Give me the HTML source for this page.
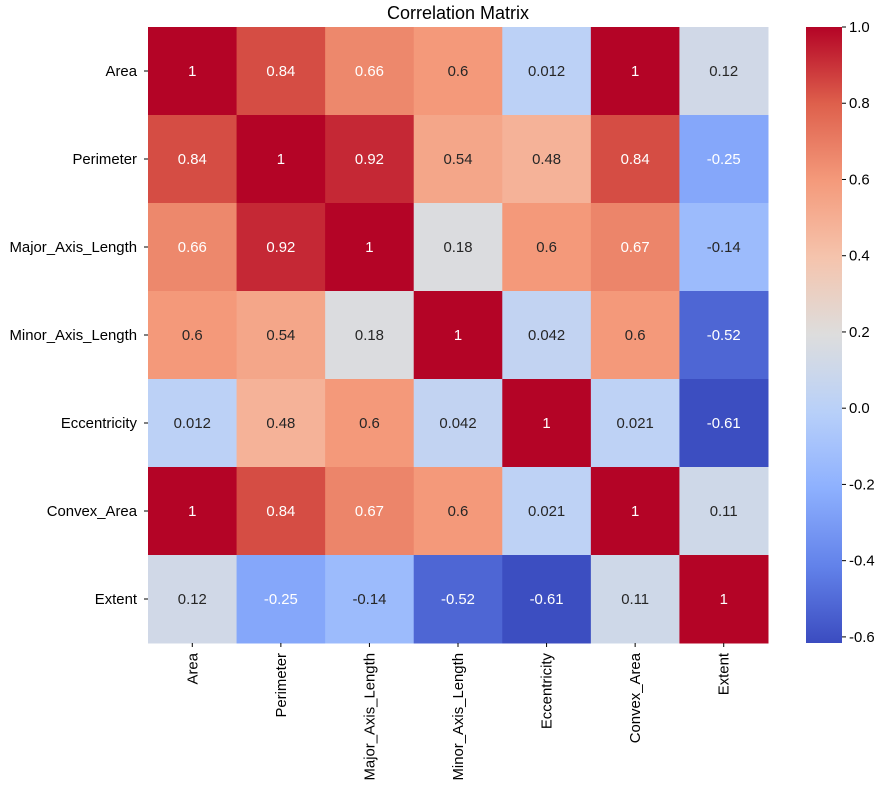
<!DOCTYPE html>
<html><head><meta charset="utf-8"><style>
body{margin:0;background:#fff;font-family:"Liberation Sans","DejaVu Sans",sans-serif;}
svg text{font-family:"Liberation Sans","DejaVu Sans",sans-serif;}
</style></head><body>
<svg id="chart" width="895" height="796">
<text x="458" y="19" text-anchor="middle" font-size="18" fill="#000">Correlation Matrix</text>
<g id="cells"></g>
<g id="ylabels"></g>
<g id="xlabels"></g>
<g id="cbar"></g>
</svg>
<script>
const labels = ["Area","Perimeter","Major_Axis_Length","Minor_Axis_Length","Eccentricity","Convex_Area","Extent"];
const row0 = [1,0.84,0.66,0.6,0.012,1,0.12];
const row1 = [0.84,1,0.92,0.54,0.48,0.84,-0.25];
const row2 = [0.66,0.92,1,0.18,0.6,0.67,-0.14];
const row3 = [0.6,0.54,0.18,1,0.042,0.6,-0.52];
const row4 = [0.012,0.48,0.6,0.042,1,0.021,-0.61];
const row5 = [1,0.84,0.67,0.6,0.021,1,0.11];
const row6 = [0.12,-0.25,-0.14,-0.52,-0.61,0.11,1];
const matrix = [row0,row1,row2,row3,row4,row5,row6];
const cbarTicks = [-0.6,-0.4,-0.2,0.0,0.2,0.4,0.6,0.8,1.0];
const vmin = -0.616, vmax = 1.0;

const NS="http://www.w3.org/2000/svg";
const X0=148,X1=768,Y0=27,Y1=643;
const n=labels.length, cw=(X1-X0)/n, ch=(Y1-Y0)/n;
const FS=14.9;
const cmap=[[59,76,192],[98,130,234],[141,176,254],[184,208,249],[221,221,221],[245,196,173],[244,154,123],[222,96,76],[180,4,38]];
function color(v){
  let t=(v-vmin)/(vmax-vmin); t=Math.max(0,Math.min(1,t));
  const p=t*8, i=Math.min(7,Math.floor(p)), f=p-i;
  return cmap[i].map((c,k)=>Math.round(c+(cmap[i+1][k]-c)*f));
}
function lum(c){const l=c.map(x=>{x/=255;return x<=0.03928?x/12.92:Math.pow((x+0.055)/1.055,2.4)});return 0.2126*l[0]+0.7152*l[1]+0.0722*l[2];}
function el(tag,attrs,parent){const e=document.createElementNS(NS,tag);for(const k in attrs)e.setAttribute(k,attrs[k]);parent.appendChild(e);return e;}
const cells=document.getElementById('cells');
matrix.forEach((row,r)=>row.forEach((v,c)=>{
  const col=color(v);
  const rect=el('rect',{x:X0+c*cw,y:Y0+r*ch,width:cw+0.5,height:ch+0.5,fill:`rgb(${col})`},cells);
  
  
  const t=el('text',{x:X0+(c+0.5)*cw,y:Y0+(r+0.5)*ch+5,'text-anchor':'middle','font-size':FS,fill:lum(col)>0.408?'#262626':'#fff'},cells);
  t.textContent=String(v);
  
  
}));
const yl=document.getElementById('ylabels'), xl=document.getElementById('xlabels');
labels.forEach((lab,i)=>{
  const y=Y0+(i+0.5)*ch;
  el('line',{x1:X0-4,x2:X0,y1:y,y2:y,stroke:'#000'},yl);
  const t=el('text',{x:X0-11,y:y+5,'text-anchor':'end','font-size':FS,fill:'#000'},yl);
  t.textContent=lab;
  
  
  const x=X0+(i+0.5)*cw;
  el('line',{x1:x,x2:x,y1:Y1,y2:Y1+4,stroke:'#000'},xl);
  const tx=el('text',{x:0,y:0,'text-anchor':'end','font-size':FS,fill:'#000',transform:`translate(${x+5},${Y1+10}) rotate(-90)`},xl);
  tx.textContent=lab;
  
  
});
const cb=document.getElementById('cbar');
const CX0=806,CX1=842;
const defs=el('defs',{},cb);
const g=el('linearGradient',{id:'grad',x1:0,y1:1,x2:0,y2:0},defs);
for(let i=0;i<=16;i++){const v=vmin+(vmax-vmin)*i/16;el('stop',{offset:i/16,'stop-color':`rgb(${color(v)})`},g);}
const cr=el('rect',{x:CX0,y:Y0,width:CX1-CX0,height:Y1-Y0,fill:'url(#grad)'},cb);


const ys=v=>Y1-(v-vmin)/(vmax-vmin)*(Y1-Y0);
cbarTicks.forEach(v=>{
  const y=ys(v);
  el('line',{x1:CX1,x2:CX1+4,y1:y,y2:y,stroke:'#000'},cb);
  const t=el('text',{x:CX1+7,y:y+5,'font-size':FS,fill:'#000'},cb);
  t.textContent=(v<0?'-':'')+Math.abs(v).toFixed(1);
  
  
});
</script>
</body></html>
